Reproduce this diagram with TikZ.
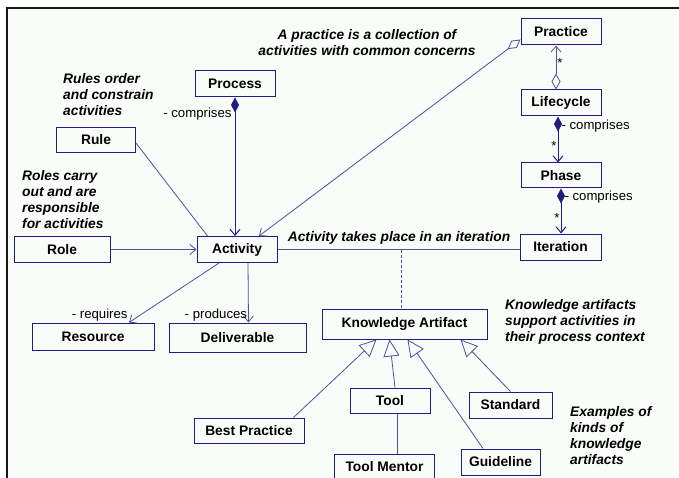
\documentclass[tikz,border=0pt]{standalone}
\usepackage{fontspec}
\setmainfont{Liberation Sans}
\usetikzlibrary{positioning, arrows.meta, calc}

\definecolor{boxblue}{RGB}{30,30,130}
\definecolor{linkblue}{RGB}{80,80,150}
\definecolor{paper}{RGB}{250,252,250}

\begin{document}
\begin{tikzpicture}[x=1pt, y=-1pt,
    cls/.style={draw=boxblue, line width=1pt, fill=paper, inner sep=2pt,
        minimum height=26pt, font=\fontsize{13.8}{16}\selectfont\bfseries},
    note/.style={inner sep=0pt, font=\fontsize{13.8}{16}\selectfont\bfseries\itshape},
    lbl/.style={inner sep=1pt, font=\fontsize{13.2}{15}\selectfont},
    link/.style={draw=linkblue, line width=0.8pt},
    nav/.style={link, -{Straight Barb[length=6pt, width=10pt]}},
    comp/.style={draw=boxblue, line width=1pt,
        {Diamond[length=15pt, width=8pt, fill=boxblue]}-{Straight Barb[length=6pt, width=10pt]}},
    aggr/.style={link, {Diamond[open, length=16pt, width=9pt]}-{Straight Barb[length=6pt, width=10pt]}},
    inh/.style={link, -{Triangle[open, length=17pt, width=16pt]}}]

    % frame of the screenshot
    \useasboundingbox (0,0) rectangle (679,478);
    \fill[white] (0,0) rectangle (679,478);
    \fill[paper] (7,8) rectangle (679,478);
    \draw[line width=2pt, black!90] (6.7,478) -- (6.7,8.3) -- (679,8.3);

    % classes
    \node[cls, minimum width=80pt] (process) at (235,84) {Process};
    \node[cls, minimum width=79pt, minimum height=25pt] (rule) at (96,140) {Rule};
    \node[cls, minimum width=96pt] (role) at (62,249.5) {Role};
    \node[cls, minimum width=80pt] (activity) at (237,249.5) {Activity};
    \node[cls, minimum width=122pt, minimum height=27pt] (resource) at (93,336.5) {Resource};
    \node[cls, minimum width=137pt, minimum height=29pt] (deliverable) at (237.5,337.5) {Deliverable};

    \node[cls, minimum width=80pt] (practice) at (561,32) {Practice};
    \node[cls, minimum width=80pt] (lifecycle) at (561,103) {Lifecycle};
    \node[cls, minimum width=80pt, minimum height=25pt] (phase) at (561,175.5) {Phase};
    \node[cls, minimum width=81pt] (iteration) at (560.5,247) {Iteration};

    \node[cls, minimum width=165pt, minimum height=30pt] (know) at (404.5,324) {Knowledge Artifact};
    \node[cls, minimum width=110pt, minimum height=25pt] (bestpractice) at (249,430.5) {Best Practice};
    \node[cls, minimum width=80pt, minimum height=25pt] (tool) at (390,400.5) {Tool};
    \node[cls, minimum width=83pt] (standard) at (510.5,405) {Standard};
    \node[cls, minimum width=79pt] (guideline) at (500.5,462) {Guideline};
    \node[cls, minimum width=100pt] (toolmentor) at (384.5,467) {Tool Mentor};

    % notes
    \node[note, align=center] (practicenote) at (367,42.5)
        {A practice is a collection of\\activities with common concerns};
    \node[note, align=left, anchor=west] (rulesnote) at (63,95)
        {Rules order\\and constrain\\activities};
    \node[note, align=left, anchor=west] (rolesnote) at (22,200)
        {Roles carry\\out and are\\responsible\\for activities};
    \node[note] (iternote) at (399,238) {Activity takes place in an iteration};
    \node[note, align=left, anchor=west] (knownote) at (505,322)
        {Knowledge artifacts\\support activities in\\their process context};
    \node[note, align=left, anchor=west] (examplenote) at (570,436)
        {Examples of\\kinds of\\knowledge\\artifacts};

    % associations round the activity
    \draw[comp] (process.south) -- node[lbl, pos=0.12, left=2pt] {- comprises} (process.south |- activity.north);
    \draw[link] ([yshift=-3pt]rule.east) -- ([xshift=11pt]activity.north west);
    \draw[aggr] ([yshift=6pt]practice.south west) -- ([xshift=22pt]activity.north);
    \draw[nav] (role) -- (activity);
    \draw[nav] ([xshift=-18pt]activity.south) -- node[lbl, pos=1, anchor=south east] {- requires} ([xshift=36pt]resource.north);
    \draw[nav] ([xshift=11pt]activity.south) -- node[lbl, pos=1, anchor=south east] {- produces} ([xshift=11pt]deliverable.north);
    \draw[link] (activity.east) -- coordinate[pos=0.51] (assoc) (activity.east -| iteration.west);
    \draw[link, dash pattern=on 3pt off 2pt] (assoc) -- (assoc |- know.north);

    % practice down to iteration
    \draw[aggr] ([xshift=-5pt]lifecycle.north) -- node[lbl, pos=0.6, right] {*} ([xshift=-5pt]practice.south);
    \draw[comp] ([xshift=-3pt]lifecycle.south) -- node[lbl, pos=0.2, right=2pt] {- comprises}
        node[lbl, pos=0.65, left] {*} ([xshift=-3pt]phase.north);
    \draw[comp] (phase.south) -- node[lbl, pos=0.2, right=2pt] {- comprises}
        node[lbl, pos=0.65, left] {*} (phase.south |- iteration.north);

    % kinds of knowledge artifacts
    \draw[inh] ([xshift=-11pt]bestpractice.north east) -- ([xshift=-28pt]know.south);
    \draw[inh] ([xshift=5pt]tool.north) -- ([xshift=-15pt]know.south);
    \draw[inh] ([xshift=-17.5pt]guideline.north) -- ([xshift=3pt]know.south);
    \draw[inh] (standard.north) -- ([xshift=56pt]know.south);
    \draw[link] ([xshift=7pt]tool.south) -- ([xshift=7pt]tool.south |- toolmentor.north);
\end{tikzpicture}
\end{document}
